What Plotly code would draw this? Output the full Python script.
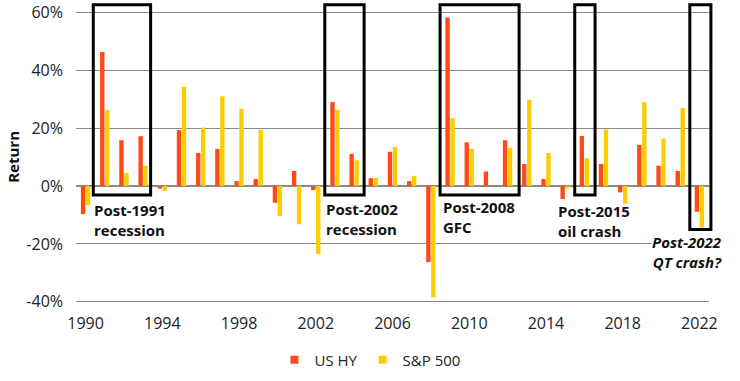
import plotly.graph_objects as go

years = [str(y) for y in range(1990, 2023)]
us_hy = [-9.7, 46.3, 15.8, 17.2, -0.9, 19.3, 11.4, 12.8, 1.7, 2.4, -5.8, 5.2, -1.4,
         29.0, 11.1, 2.7, 11.8, 1.7, -26.3, 58.2, 15.1, 5.0, 15.8, 7.6, 2.4, -4.5,
         17.3, 7.6, -2.2, 14.2, 7.0, 5.2, -8.9]
sp500 = [-6.6, 26.3, 4.5, 7.0, -1.7, 34.3, 20.2, 31.0, 26.7, 19.4, -10.3, -13.2, -23.5,
         26.3, 8.9, 2.8, 13.5, 3.5, -38.5, 23.4, 12.8, 0.0, 13.2, 29.8, 11.4, -0.8,
         9.6, 19.5, -6.2, 29.0, 16.4, 27.0, -14.4]
tick_years = ["1990", "1994", "1998", "2002", "2006", "2010", "2014", "2018", "2022"]
y_ticks = [-40, -20, 0, 20, 40, 60]

# highlighted periods: (x0, x1 in category-index units, y0, y1 in %, label, label x, label y, anchor)
periods = [
    (0.40, 3.39, -3.1, 62.6, "<b>Post-1991<br>recession</b>", 0.40, -4.4, "left"),
    (12.47, 14.52, -3.1, 62.6, "<b>Post-2002<br>recession</b>", 12.47, -4.2, "left"),
    (18.48, 22.60, -3.1, 62.6, "<b>Post-2008<br>GFC</b>", 18.57, -3.6, "left"),
    (25.50, 26.56, -3.1, 62.6, "<b>Post-2015<br>oil crash</b>", 24.60, -4.7, "left"),
    (31.50, 32.60, -15.0, 62.6, "<b><i>Post-2022<br>QT crash?</i></b>", 33.25, -15.6, "right"),
]

RED = "#FF4A17"
YEL = "#FFCC00"
FONT = "Open Sans"
YMIN, YMAX = -43.18, 63.56
N = len(years)


def xf(i):
    return (i + 0.5) / N


def yf(v):
    return (v - YMIN) / (YMAX - YMIN)


fig = go.Figure()
fig.add_trace(go.Bar(x=years, y=us_hy, name="US HY", marker_color=RED,
                     marker_line_width=0, showlegend=False))
fig.add_trace(go.Bar(x=years, y=sp500, name="S&P 500", marker_color=YEL,
                     marker_line_width=0, showlegend=False))
fig.add_trace(go.Scatter(x=[None], y=[None], mode="markers", name="US HY",
                         marker=dict(symbol="square", size=8, color=RED)))
fig.add_trace(go.Scatter(x=[None], y=[None], mode="markers", name="S&P 500",
                         marker=dict(symbol="square", size=8, color=YEL)))

for x0, x1, y0, y1, label, lx, ly, anch in periods:
    fig.add_shape(type="rect", xref="x domain", yref="y domain",
                  x0=xf(x0), x1=xf(x1), y0=yf(y0), y1=yf(y1),
                  line=dict(color="black", width=3), fillcolor="rgba(0,0,0,0)",
                  layer="above")
    fig.add_annotation(xref="x domain", yref="y domain", x=xf(lx), y=yf(ly),
                       text=label, showarrow=False,
                       xanchor=anch, yanchor="top", align=anch,
                       font=dict(family=FONT, size=15, color="#111"),
                       bgcolor="white" if anch == "right" else None, borderpad=0)

fig.add_annotation(xref="paper", yref="paper", x=(12.7 - 76) / 633, y=0.498,
                   text="<b>Return</b>", textangle=-90, showarrow=False,
                   xanchor="center", yanchor="middle",
                   font=dict(family=FONT, size=15, color="#111"))

fig.update_layout(
    width=740, height=381,
    margin=dict(l=76, r=31, t=2, b=70),
    paper_bgcolor="white", plot_bgcolor="white",
    barmode="group", bargap=0.48, bargroupgap=0.12,
    font=dict(family=FONT, size=16, color="#222"),
    legend=dict(orientation="h", xref="container", yref="container",
                x=0.5, y=0.055, xanchor="center", yanchor="middle",
                font=dict(size=15), itemwidth=30),
    xaxis=dict(type="category", tickmode="array", tickvals=tick_years,
               ticktext=tick_years, showgrid=False, zeroline=False,
               showline=False, ticks="", tickfont=dict(size=16),
               ticklabelstandoff=1,
               range=[-0.5, N - 0.5], automargin=False),
    yaxis=dict(range=[YMIN, YMAX], tickmode="array", tickvals=y_ticks,
               ticktext=[f"{v}%" for v in y_ticks], showgrid=True,
               gridcolor="#8a8a8a", gridwidth=1, zeroline=True,
               zerolinecolor="#8a8a8a", zerolinewidth=2, showline=False,
               ticks="", tickfont=dict(size=16), ticklabelstandoff=12,
               automargin=False),
)

fig.write_html("out.html", config={"displayModeBar": False},
               post_script="document.body.style.margin='0';")
